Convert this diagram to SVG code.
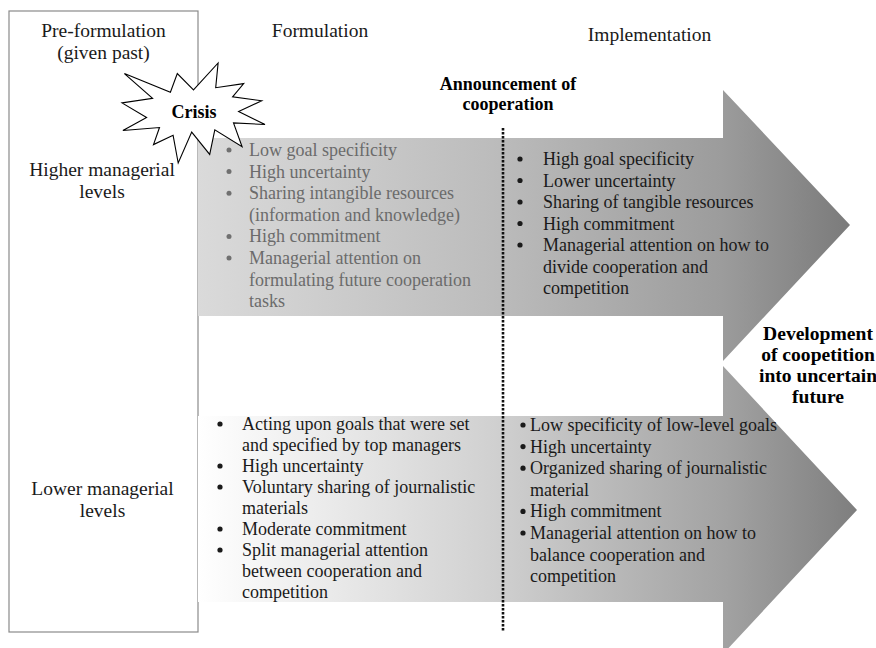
<svg xmlns="http://www.w3.org/2000/svg" width="876" height="648" viewBox="0 0 876 648">
  <style>
    text { font-family: "Liberation Serif", "Times New Roman", serif; fill: #1a1a1a; }
    .hdr { font-size: 19.5px; text-anchor: middle; }
    .lbl { font-size: 19.5px; text-anchor: middle; }
    .item { font-size: 18px; }
    .faded { fill: #6b6b6b; }
    .bold { font-weight: bold; font-size: 18px; text-anchor: middle; fill: #000; }
    .big { font-size: 19.6px; }
    .dot { fill: #1a1a1a; }
    .dot.faded { fill: #707070; }
  </style>
  <defs>
    <linearGradient id="gradUpper" gradientUnits="userSpaceOnUse" x1="198" y1="0" x2="852" y2="0">
      <stop offset="0" stop-color="#dadada"/>
      <stop offset="0.45" stop-color="#bcbcbc"/>
      <stop offset="0.8" stop-color="#9c9c9c"/>
      <stop offset="1" stop-color="#7a7a7a"/>
    </linearGradient>
    <linearGradient id="gradLower" gradientUnits="userSpaceOnUse" x1="198" y1="0" x2="858" y2="0">
      <stop offset="0" stop-color="#ffffff"/>
      <stop offset="0.45" stop-color="#d0d0d0"/>
      <stop offset="0.8" stop-color="#a2a2a2"/>
      <stop offset="1" stop-color="#7e7e7e"/>
    </linearGradient>
  </defs>

  <rect width="876" height="648" fill="#ffffff"/>

  <!-- left column: the given past -->
  <g id="pre-formulation">
    <rect x="9" y="11" width="189" height="621" fill="#ffffff" stroke="#8a8a8a" stroke-width="1.2"/>
    <text class="lbl" x="103.5" y="37">Pre-formulation</text>
    <text class="lbl" x="103.5" y="59">(given past)</text>
    <text class="lbl" x="102" y="176">Higher managerial</text>
    <text class="lbl" x="102" y="198">levels</text>
    <text class="lbl" x="102.5" y="495">Lower managerial</text>
    <text class="lbl" x="102.5" y="517">levels</text>
  </g>

  <g id="header-formulation">
    <text class="hdr" x="320" y="37">Formulation</text>
  </g>
  <g id="header-implementation">
    <text class="hdr" x="649.5" y="41">Implementation</text>
  </g>

  <!-- higher managerial levels arrow -->
  <g id="arrow-higher">
    <path d="M198,138 H723 V90 L850,225 L723,361 V316 H198 Z" fill="url(#gradUpper)"/>
    <g>
      <circle class="dot faded" cx="229" cy="150" r="2.5"/>
      <circle class="dot faded" cx="229" cy="171.6" r="2.5"/>
      <circle class="dot faded" cx="229" cy="193.2" r="2.5"/>
      <circle class="dot faded" cx="229" cy="236.4" r="2.5"/>
      <circle class="dot faded" cx="229" cy="258" r="2.5"/>
      <text class="item faded" x="249" y="156">Low goal specificity</text>
      <text class="item faded" x="249" y="177.6">High uncertainty</text>
      <text class="item faded" x="249" y="199.2">Sharing intangible resources</text>
      <text class="item faded" x="249" y="220.8">(information and knowledge)</text>
      <text class="item faded" x="249" y="242.4">High commitment</text>
      <text class="item faded" x="249" y="264">Managerial attention on</text>
      <text class="item faded" x="249" y="285.6">formulating future cooperation</text>
      <text class="item faded" x="249" y="307.2">tasks</text>
    </g>
    <g>
      <circle class="dot" cx="520" cy="159" r="2.6"/>
      <circle class="dot" cx="520" cy="180.5" r="2.6"/>
      <circle class="dot" cx="520" cy="202" r="2.6"/>
      <circle class="dot" cx="520" cy="223.5" r="2.6"/>
      <circle class="dot" cx="520" cy="245" r="2.6"/>
      <text class="item" x="543" y="165">High goal specificity</text>
      <text class="item" x="543" y="186.5">Lower uncertainty</text>
      <text class="item" x="543" y="208">Sharing of tangible resources</text>
      <text class="item" x="543" y="229.5">High commitment</text>
      <text class="item" x="543" y="251">Managerial attention on how to</text>
      <text class="item" x="543" y="272.5">divide cooperation and</text>
      <text class="item" x="543" y="294">competition</text>
    </g>
  </g>

  <!-- lower managerial levels arrow -->
  <g id="arrow-lower">
    <path d="M198,416 H723 V366 L857,510 L723,654 V602 H198 Z" fill="url(#gradLower)"/>
    <g>
      <circle class="dot" cx="220" cy="424" r="2.6"/>
      <circle class="dot" cx="220" cy="466" r="2.6"/>
      <circle class="dot" cx="220" cy="487" r="2.6"/>
      <circle class="dot" cx="220" cy="529" r="2.6"/>
      <circle class="dot" cx="220" cy="550" r="2.6"/>
      <text class="item" x="242" y="430">Acting upon goals that were set</text>
      <text class="item" x="242" y="451">and specified by top managers</text>
      <text class="item" x="242" y="472">High uncertainty</text>
      <text class="item" x="242" y="493">Voluntary sharing of journalistic</text>
      <text class="item" x="242" y="514">materials</text>
      <text class="item" x="242" y="535">Moderate commitment</text>
      <text class="item" x="242" y="556">Split managerial attention</text>
      <text class="item" x="242" y="577">between cooperation and</text>
      <text class="item" x="242" y="598">competition</text>
    </g>
    <g>
      <circle class="dot" cx="523" cy="425" r="2.6"/>
      <circle class="dot" cx="523" cy="446.6" r="2.6"/>
      <circle class="dot" cx="523" cy="468.2" r="2.6"/>
      <circle class="dot" cx="523" cy="511.4" r="2.6"/>
      <circle class="dot" cx="523" cy="533" r="2.6"/>
      <text class="item" x="530" y="431">Low specificity of low-level goals</text>
      <text class="item" x="530" y="452.6">High uncertainty</text>
      <text class="item" x="530" y="474.2">Organized sharing of journalistic</text>
      <text class="item" x="530" y="495.8">material</text>
      <text class="item" x="530" y="517.4">High commitment</text>
      <text class="item" x="530" y="539">Managerial attention on how to</text>
      <text class="item" x="530" y="560.6">balance cooperation and</text>
      <text class="item" x="530" y="582.2">competition</text>
    </g>
  </g>

  <!-- announcement marker line -->
  <g id="connectors">
    <line x1="503" y1="128" x2="503" y2="632" stroke="#111" stroke-width="2.6" stroke-dasharray="2.4 1.6"/>
  </g>

  <g id="announcement">
    <text class="bold" x="508" y="90">Announcement of</text>
    <text class="bold" x="508" y="110">cooperation</text>
  </g>

  <!-- crisis burst -->
  <g id="crisis">
    <polygon points="193.5,89.9 218.1,63 215.7,87.7 243.7,83.6 232.6,96.9 261.7,100.7 238.6,111.5 265,124.5 233.5,122.9 242.1,146.8 214.8,129.9 209.7,154.4 191.7,132.1 178.2,163 173.1,135.3 153.5,144.6 159.5,127.5 122.9,130.5 146.6,117.5 122,102.9 152.6,98.3 124.4,73.6 170.4,92.3 177.3,73.6" fill="#ffffff" stroke="#000" stroke-width="1.1" stroke-linejoin="miter"/>
    <text class="bold" x="194" y="118">Crisis</text>
  </g>

  <g id="future">
    <text class="bold big" x="818" y="340">Development</text>
    <text class="bold big" x="818" y="361">of coopetition</text>
    <text class="bold big" x="818" y="382">into uncertain</text>
    <text class="bold big" x="818" y="403">future</text>
  </g>
</svg>
